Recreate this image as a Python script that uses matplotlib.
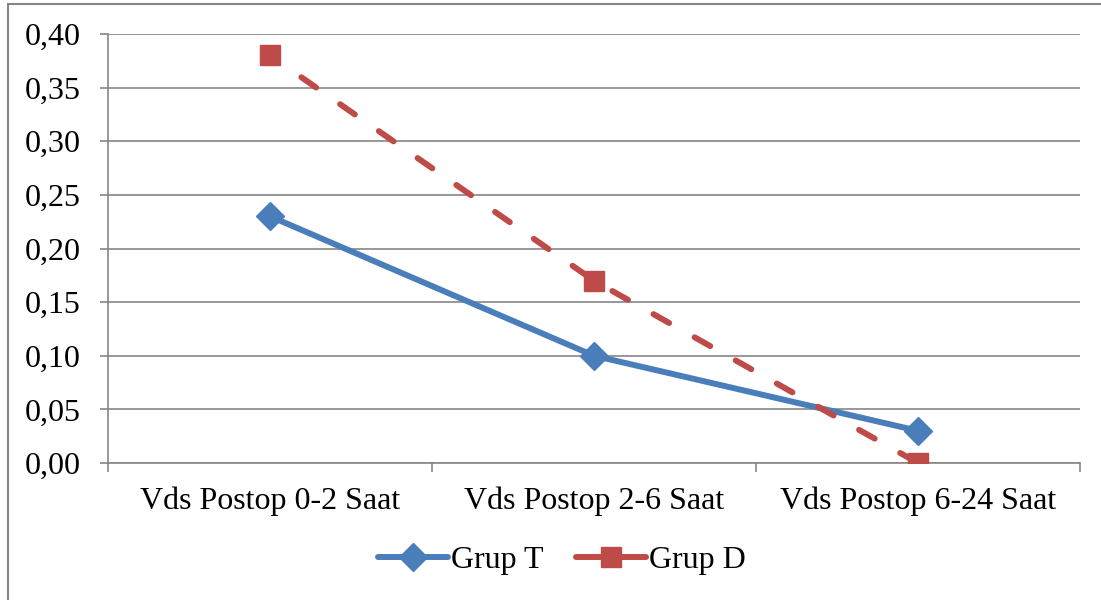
import matplotlib
matplotlib.use("Agg")
import matplotlib.pyplot as plt
from matplotlib.lines import Line2D
from matplotlib.patches import Rectangle

categories = ["Vds Postop 0-2 Saat", "Vds Postop 2-6 Saat", "Vds Postop 6-24 Saat"]
grup_t = [0.23, 0.10, 0.03]
grup_d = [0.38, 0.17, 0.00]
yticks = [0.00, 0.05, 0.10, 0.15, 0.20, 0.25, 0.30, 0.35, 0.40]

plt.rcParams['font.family'] = ['Liberation Serif', 'DejaVu Serif']

fig = plt.figure(figsize=(11.01, 6.0), dpi=100)
ax = fig.add_axes([108/1101, 1-463/600, (1080-108)/1101, (463-34)/600])

gray = "#868686"
blue = "#4A7EBB"
red = "#BE4B48"
fs = 23
lw = 4.3
x = list(range(len(categories)))
ax.plot(x, grup_t, color=blue, lw=lw, marker="D", ms=14, zorder=3,
        solid_capstyle="round", solid_joinstyle="round", label="Grup T")
ax.plot(x, grup_d, color=red, lw=lw, marker="s", ms=14, zorder=3,
        linestyle=(1.5, (3.0, 4.9)), dash_capstyle="round", label="Grup D")

ax.set_xlim(-0.5, 2.5)
ax.set_ylim(0, 0.40)
ax.set_yticks(yticks)
ax.set_yticklabels([f"{v:.2f}".replace(".", ",") for v in yticks], fontsize=fs)
ax.yaxis.grid(True, color=gray, lw=1.2)
ax.set_axisbelow(True)
ax.set_xticks([-0.5, 0.5, 1.5, 2.5])
ax.set_xticklabels([])
ax.set_xticks(x, minor=True)
ax.set_xticklabels(categories, minor=True, fontsize=fs)
ax.tick_params(axis="x", which="minor", length=0, pad=17)
ax.tick_params(axis="x", which="major", length=6.3, color=gray, width=1.2)
ax.tick_params(axis="y", length=5.8, color=gray, width=1.2, pad=14)
for s in ["top", "right"]:
    ax.spines[s].set_visible(False)
for s in ["left", "bottom"]:
    ax.spines[s].set_color(gray)
    ax.spines[s].set_linewidth(1.2)

leg = fig.legend(handles=[
    Line2D([], [], color=blue, lw=lw, marker="D", ms=14, solid_capstyle="round"),
    Line2D([], [], color=red, lw=lw, marker="s", ms=14, solid_capstyle="round")],
    labels=["Grup T", "Grup D"], loc="center", bbox_to_anchor=(562/1101, 1-560/600),
    ncol=2, frameon=False, fontsize=fs, handlelength=2.2, handletextpad=0.1,
    columnspacing=1.0)

fig.patches.append(Rectangle((8/1101, -0.1), 1.2, 1-4/600+0.1, transform=fig.transFigure,
                             fill=False, edgecolor=gray, lw=1.5))

fig.savefig("out.png", dpi=100)
